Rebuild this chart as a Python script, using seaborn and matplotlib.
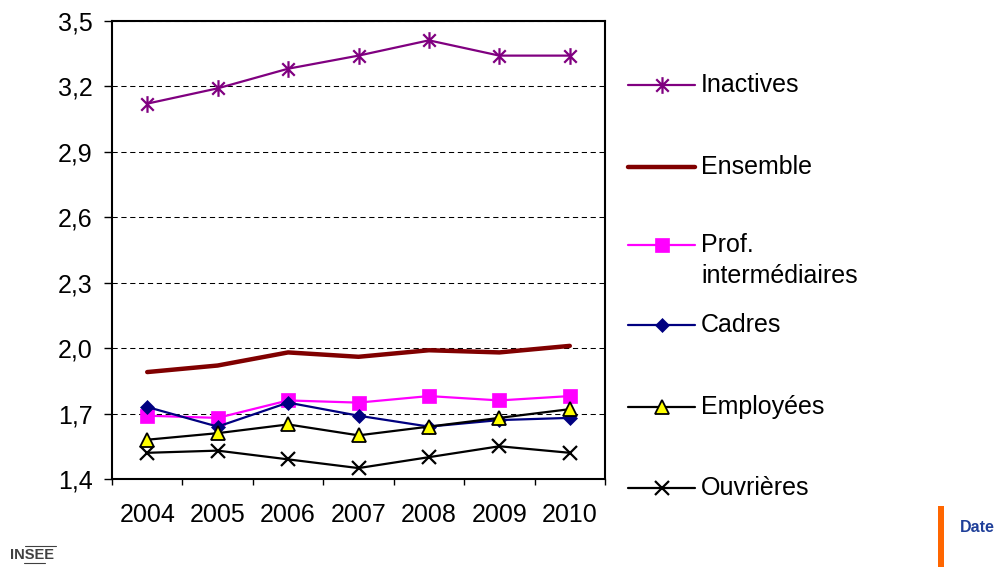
import numpy as np
import pandas as pd
import matplotlib
matplotlib.use("Agg")
import matplotlib.pyplot as plt
from matplotlib.lines import Line2D
from matplotlib.patches import Rectangle
from matplotlib.path import Path
from matplotlib.ticker import FixedLocator
import seaborn as sns

# ---------------- data ----------------
years = ["2004", "2005", "2006", "2007", "2008", "2009", "2010"]
inactives = [3.12, 3.19, 3.28, 3.34, 3.41, 3.34, 3.34]
ensemble = [1.89, 1.92, 1.98, 1.96, 1.99, 1.98, 2.01]
prof_inter = [1.69, 1.68, 1.76, 1.75, 1.78, 1.76, 1.78]
cadres = [1.73, 1.64, 1.75, 1.69, 1.64, 1.67, 1.68]
employees = [1.58, 1.61, 1.65, 1.60, 1.64, 1.68, 1.72]
ouvrieres = [1.52, 1.53, 1.49, 1.45, 1.50, 1.55, 1.52]
series_names = ["Inactives", "Ensemble", "Prof. intermédiaires", "Cadres", "Employées", "Ouvrières"]
series_values = [inactives, ensemble, prof_inter, cadres, employees, ouvrieres]
y_ticks = [1.4, 1.7, 2.0, 2.3, 2.6, 2.9, 3.2, 3.5]
y_tick_labels = ["1,4", "1,7", "2,0", "2,3", "2,6", "2,9", "3,2", "3,5"]

df = pd.DataFrame({
    "annee": years * len(series_names),
    "valeur": np.concatenate(series_values),
    "serie": np.repeat(series_names, len(years)),
})

# ---------------- styles ----------------
star = Path([(0, -1), (0, 1), (-0.75, -0.75), (0.75, 0.75), (-0.75, 0.75), (0.75, -0.75)],
            [Path.MOVETO, Path.LINETO, Path.MOVETO, Path.LINETO, Path.MOVETO, Path.LINETO])
styles = {
    "Inactives": dict(color="#800080", linewidth=1.6, marker=star, markersize=12,
                      markerfacecolor="none", markeredgecolor="#800080", markeredgewidth=1.6),
    "Ensemble": dict(color="#800000", linewidth=3.2, marker=None),
    "Prof. intermédiaires": dict(color="#FF00FF", linewidth=1.6, marker="s", markersize=10,
                                 markerfacecolor="#FF00FF", markeredgecolor="#FF00FF", markeredgewidth=0.5),
    "Cadres": dict(color="#000080", linewidth=1.6, marker="D", markersize=7.3,
                   markerfacecolor="#000080", markeredgecolor="#000080", markeredgewidth=0.5),
    "Employées": dict(color="black", linewidth=1.6, marker="^", markersize=10,
                      markerfacecolor="#FFFF00", markeredgecolor="black", markeredgewidth=1.3),
    "Ouvrières": dict(color="black", linewidth=1.6, marker="x", markersize=10,
                      markerfacecolor="none", markeredgecolor="black", markeredgewidth=1.6),
}

sns.set_theme(style="white")
plt.rcParams["font.family"] = ["Liberation Sans", "DejaVu Sans"]

W, H = 998, 567
fig = plt.figure(figsize=(W / 100, H / 100), dpi=100)
fig.patch.set_facecolor("white")

def fx(px):
    return px / W

def fy(py):
    return 1 - py / H

ax = fig.add_axes([fx(112), fy(479), fx(605) - fx(112), fy(20.7) - fy(479)])
ax.set_facecolor("white")

for name in series_names:
    sub = df[df["serie"] == name]
    sns.lineplot(data=sub, x="annee", y="valeur", ax=ax, errorbar=None,
                 legend=False, **styles[name])

ax.set_xlim(-0.5, len(years) - 0.5)
ax.set_ylim(1.4, 3.5)
ax.set_yticks(y_ticks)
ax.set_yticklabels(y_tick_labels)
ax.set_xlabel("")
ax.set_ylabel("")

ax.xaxis.set_minor_locator(FixedLocator(np.arange(-0.5, len(years), 1.0)))
ax.tick_params(axis="x", which="major", length=0, pad=17, labelsize=18, colors="black")
ax.tick_params(axis="x", which="minor", length=4.5, width=1, direction="out", color="black", bottom=True)
ax.tick_params(axis="y", which="major", length=6, width=1, direction="out", pad=8,
               labelsize=18, colors="black", left=True)

ax.yaxis.grid(True, linestyle=(0, (5, 3.5)), color="black", linewidth=0.75)
ax.xaxis.grid(False)
ax.set_axisbelow(True)
for sp in ax.spines.values():
    sp.set_visible(True)
    sp.set_color("black")
    sp.set_linewidth(1.5)

# ---------------- legend (drawn by hand) ----------------
leg_y = [85, 167, 245, 325, 407, 488]
for name, yy in zip(series_names, leg_y):
    st = dict(styles[name])
    ln = Line2D([fx(628), fx(661.5), fx(695)], [fy(yy)] * 3, transform=fig.transFigure,
                markevery=[1], **st)
    fig.add_artist(ln)
    if name == "Prof. intermédiaires":
        fig.text(fx(701), fy(yy), "Prof.", fontsize=18, va="center", ha="left", color="black")
        fig.text(fx(701), fy(yy + 31), "intermédiaires", fontsize=18, va="center", ha="left", color="black")
    else:
        fig.text(fx(701), fy(yy), name, fontsize=18, va="center", ha="left", color="black")

# ---------------- decorations ----------------
fig.add_artist(Rectangle((fx(938), 0), fx(944) - fx(938), fy(506), transform=fig.transFigure,
                         facecolor="#FF6600", edgecolor="none"))
fig.text(fx(960), fy(527), "Date", fontsize=11.5, fontweight="bold", color="#1F3F99",
         va="center", ha="left")
fig.text(fx(10), fy(555), "INSEE", fontsize=10.5, fontweight="bold", color="#404040",
         va="center", ha="left")
fig.add_artist(Line2D([fx(25), fx(56)], [fy(546)] * 2, transform=fig.transFigure, color="#404040", lw=0.8))
fig.add_artist(Line2D([fx(24), fx(45)], [fy(563)] * 2, transform=fig.transFigure, color="#404040", lw=0.8))

fig.savefig("out.png", dpi=100, facecolor="white")
